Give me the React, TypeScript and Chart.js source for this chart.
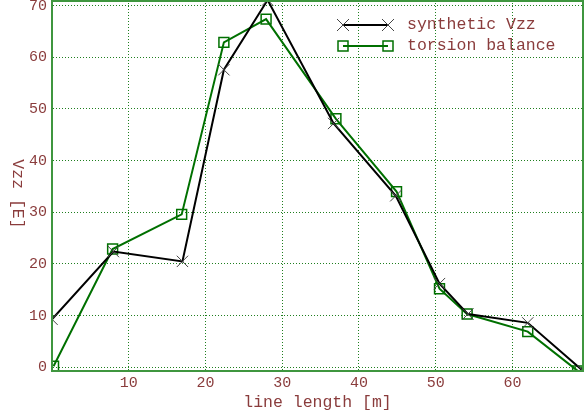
import React, { useEffect, useRef } from "react";
import { Chart, registerables } from "chart.js";

Chart.register(...registerables);

const syntheticX = [0, 8.0, 17.0, 22.4, 28.1, 36.7, 44.8, 50.5, 54.2, 62.0, 69.2];
const syntheticY = [9.3, 22.4, 20.5, 57.6, 71.1, 47.2, 33.2, 16.2, 10.3, 8.6, -0.7];
const torsionX = [0.2, 7.9, 16.9, 22.4, 27.9, 37.0, 44.9, 50.5, 54.1, 62.0, 68.5];
const torsionY = [0.2, 22.9, 29.6, 62.9, 67.4, 48.1, 34.0, 15.2, 10.3, 6.9, -0.7];
const seriesLabels = ["synthetic Vzz", "torsion balance"];
const xTitle = "line length [m]";
const yTitle = "Vzz [E]";

const TEXT = "#8a3c3c";
const GRID = "#1f7f1f";
const FRAME = "#3f963f";
const GREEN = "#007000";
const FONT = "'Liberation Mono', 'Courier New', monospace";

const decorPlugin = {
  id: "decor",
  afterDraw(chart: any) {
    const ctx = chart.ctx;
    const a = chart.chartArea;
    ctx.save();
    ctx.strokeStyle = FRAME;
    ctx.lineWidth = 2;
    ctx.setLineDash([]);
    ctx.strokeRect(a.left, a.top + 1, a.right - a.left, a.bottom - a.top - 1);
    ctx.fillStyle = TEXT;
    ctx.font = `16.5px ${FONT}`;
    ctx.save();
    ctx.translate(17, 194);
    ctx.rotate(Math.PI / 2);
    ctx.textAlign = "center";
    ctx.textBaseline = "middle";
    ctx.fillText(yTitle, 0, 0);
    ctx.restore();
    const rows = [25, 46];
    const x1 = 343;
    const x2 = 388;
    chart.data.datasets.forEach((ds: any, i: number) => {
      const y = rows[i];
      ctx.strokeStyle = ds.borderColor;
      ctx.lineWidth = ds.borderWidth;
      ctx.beginPath();
      ctx.moveTo(x1, y);
      ctx.lineTo(x2, y);
      ctx.stroke();
      [x1, x2].forEach((px) => {
        ctx.strokeStyle = ds.pointBorderColor;
        ctx.lineWidth = ds.pointBorderWidth;
        ctx.beginPath();
        if (ds.pointStyle === "crossRot") {
          const o = 6;
          ctx.moveTo(px - o, y - o);
          ctx.lineTo(px + o, y + o);
          ctx.moveTo(px + o, y - o);
          ctx.lineTo(px - o, y + o);
        } else {
          ctx.rect(px - 5, y - 5, 10, 10);
        }
        ctx.stroke();
      });
      ctx.fillStyle = TEXT;
      ctx.font = `16.5px ${FONT}`;
      ctx.textAlign = "left";
      ctx.textBaseline = "middle";
      ctx.fillText(ds.label, 407, y);
    });
    ctx.restore();
  },
  beforeDraw(chart: any) {
    const ctx = chart.ctx;
    ctx.save();
    ctx.fillStyle = "#ffffff";
    ctx.fillRect(0, 0, chart.width, chart.height);
    ctx.restore();
  },
};

export default function App() {
  const ref = useRef<HTMLCanvasElement>(null);
  useEffect(() => {
    if (!ref.current) return;
    const chart = new Chart(ref.current, {
      type: "line",
      data: {
        datasets: [
          {
            label: seriesLabels[0],
            data: syntheticX.map((x, i) => ({ x, y: syntheticY[i] })),
            borderColor: "#000000",
            borderWidth: 2,
            pointStyle: "crossRot",
            pointRadius: 8,
            pointBorderColor: "#444444",
            pointBorderWidth: 1,
            pointBackgroundColor: "transparent",
            fill: false,
            tension: 0,
          },
          {
            label: seriesLabels[1],
            data: torsionX.map((x, i) => ({ x, y: torsionY[i] })),
            borderColor: GREEN,
            borderWidth: 2,
            pointStyle: "rect",
            pointRadius: 7,
            pointBorderColor: GREEN,
            pointBorderWidth: 1.5,
            pointBackgroundColor: "transparent",
            fill: false,
            tension: 0,
          },
        ] as any,
      },
      options: {
        animation: false,
        responsive: false,
        events: [],
        layout: { autoPadding: false, padding: { top: 0, right: 2, bottom: 0, left: 0 } },
        plugins: { legend: { display: false }, tooltip: { enabled: false } },
        scales: {
          x: {
            type: "linear",
            min: 0,
            max: 69.2,
            afterFit: (s: any) => {
              s.height = 47;
              s.paddingLeft = 0;
              s.paddingRight = 0;
            },
            ticks: {
              stepSize: 10,
              includeBounds: false,
              padding: 3,
              maxRotation: 0,
              color: TEXT,
              font: { family: FONT, size: 15 },
              callback: (v: any) => (v === 0 ? "" : String(v)),
            },
            grid: { color: GRID, drawTicks: false, lineWidth: 1 },
            border: { display: true, color: FRAME, width: 2, dash: [1, 2] },
            title: {
              display: true,
              text: xTitle,
              color: TEXT,
              font: { family: FONT, size: 16.5 },
              padding: { top: 0, bottom: 5 },
            },
          },
          y: {
            type: "linear",
            min: -0.72,
            max: 71.1,
            afterFit: (s: any) => {
              s.width = 52;
              s.paddingTop = 0;
              s.paddingBottom = 0;
            },
            ticks: {
              stepSize: 10,
              includeBounds: false,
              padding: 5,
              color: TEXT,
              font: { family: FONT, size: 15 },
            },
            grid: { color: GRID, drawTicks: false, lineWidth: 1 },
            border: { display: true, color: FRAME, width: 2, dash: [1, 2] },
            title: { display: false },
          },
        },
      } as any,
      plugins: [decorPlugin],
    });
    return () => chart.destroy();
  }, []);
  return (
    <div style={{ position: "fixed", left: 0, top: 0, width: 585, height: 418, background: "#fff" }}>
      <canvas ref={ref} width={585} height={418} style={{ display: "block" }} />
    </div>
  );
}
